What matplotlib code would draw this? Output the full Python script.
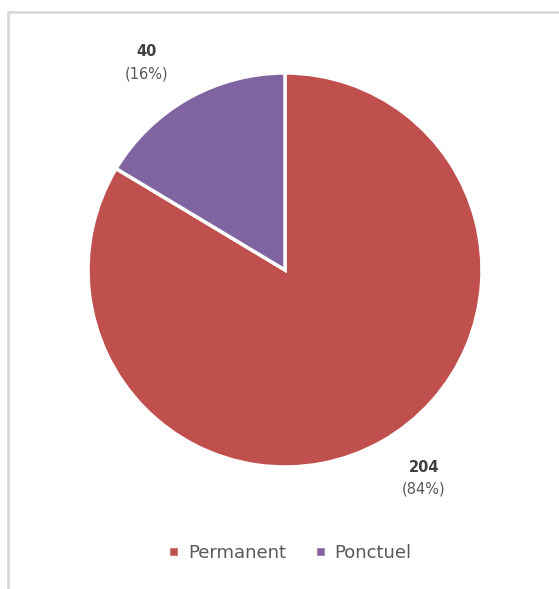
import matplotlib
matplotlib.use('Agg')
import matplotlib.pyplot as plt
from matplotlib.patches import Rectangle

# Data
labels = ['Permanent', 'Ponctuel']
values = [204, 40]
colors = ['#C0504D', '#8064A2']

W, H = 559, 589
fig = plt.figure(figsize=(W / 100, H / 100), dpi=100)

# light grey frame (left and top visible)
fig.add_artist(Rectangle((8 / W, -0.05), 1.2, 1 - 12 / H + 0.05,
                         transform=fig.transFigure, fill=False,
                         edgecolor='#D9D9D9', linewidth=2))

cx, cy, r = 285, 270, 197
ax = fig.add_axes([(cx - r) / W, (H - cy - r) / H, 2 * r / W, 2 * r / H])
wedges, _ = ax.pie(values, colors=colors, startangle=90, counterclock=False,
                   wedgeprops=dict(edgecolor='white', linewidth=2.5))
ax.set_xlim(-1, 1)
ax.set_ylim(-1, 1)
ax.set_aspect('equal')

total = sum(values)
label_pos = [(424, 467), (147, 52)]
for (px, py), v in zip(label_pos, values):
    pct = round(100 * v / total)
    fig.text(px / W, 1 - py / H, str(v), ha='center', va='center',
             fontsize=10.5, fontweight='bold', color='#404040')
    fig.text(px / W, 1 - (py + 22) / H, f'({pct}%)', ha='center', va='center',
             fontsize=10.5, color='#595959')

leg = fig.legend(wedges, labels, loc='center', bbox_to_anchor=(290 / W, 1 - 553 / H),
                 ncol=2, frameon=False, handlelength=0.6, handleheight=0.6,
                 handletextpad=0.5, columnspacing=1.6,
                 prop={'size': 13})
for t in leg.get_texts():
    t.set_color('#595959')

fig.savefig('out.png', dpi=100)
